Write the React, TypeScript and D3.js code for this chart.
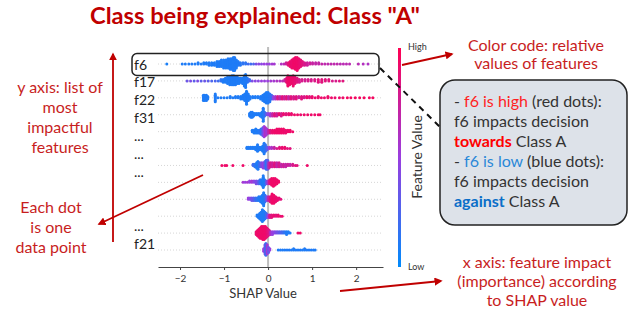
import { useEffect, useRef } from "react"
import * as d3 from "d3"

// tick values on the SHAP axis
const xTicks = [-2, -1, 0, 1, 2]

// labels written next to the rows (blank slots are rows with no label)
const labelSlots = ["f6", "f17", "f22", "f31", "...", "...", "...", "", "", "...", "f21"]

// each entry: [SHAP value, feature value (0 = low, 1 = high), dots stacked in that column]
const f6Pts = [
  [-2.3, 0.08, 1], [-1.95, 0.1, 1], [-1.88, 0.1, 1], [-1.8, 0.1, 1], [-1.73, 0.1, 1], [-1.66, 0.1, 1],
  [-1.59, 0.1, 2], [-1.52, 0.1, 1], [-1.46, 0.1, 2], [-1.4, 0.1, 2], [-1.34, 0.1, 3], [-1.28, 0.1, 3],
  [-1.22, 0.1, 3], [-1.16, 0.1, 5], [-1.11, 0.1, 5], [-1.06, 0.1, 6], [-1.01, 0.1, 7], [-0.96, 0.1, 7],
  [-0.91, 0.1, 8], [-0.86, 0.1, 9], [-0.82, 0.1, 9], [-0.79, 0.1, 11], [-0.76, 0.1, 11], [-0.72, 0.1, 7],
  [-0.68, 0.1, 4], [-0.63, 0.12, 3], [-0.57, 0.15, 2], [-0.51, 0.15, 2], [-0.45, 0.2, 1], [-0.39, 0.2, 1],
  [-0.33, 0.25, 1], [-0.27, 0.4, 1], [-0.21, 0.45, 1], [-0.15, 0.45, 1], [-0.09, 0.5, 1], [-0.03, 0.5, 1],
  [0.03, 0.5, 1], [0.09, 0.55, 1], [0.14, 0.55, 1],
  [0.3, 0.6, 1], [0.36, 0.65, 1], [0.41, 0.75, 2], [0.46, 0.85, 3], [0.5, 0.9, 5], [0.54, 0.9, 7],
  [0.58, 0.92, 8], [0.62, 0.92, 10], [0.66, 0.92, 11], [0.7, 0.9, 8], [0.74, 0.88, 6], [0.78, 0.85, 4],
  [0.83, 0.8, 3], [0.89, 0.75, 3], [0.95, 0.75, 2], [1.01, 0.72, 2], [1.08, 0.7, 2], [1.15, 0.7, 2],
  [1.22, 0.7, 1], [1.29, 0.68, 1], [1.36, 0.68, 1], [1.43, 0.68, 1], [1.5, 0.68, 1], [1.57, 0.68, 1],
  [1.64, 0.66, 1], [1.71, 0.66, 1], [1.78, 0.66, 1], [1.85, 0.66, 1],
  [2.05, 0.65, 1], [2.16, 0.62, 1], [2.27, 0.6, 1],
]
const f17Pts = [
  [-1.84, 0.35, 1], [-1.76, 0.4, 1], [-1.68, 0.3, 1], [-1.6, 0.4, 1], [-1.52, 0.3, 1], [-1.44, 0.35, 1],
  [-1.36, 0.3, 1], [-1.28, 0.25, 1], [-1.2, 0.25, 1], [-1.13, 0.2, 1], [-1.07, 0.15, 2], [-1.02, 0.1, 3],
  [-0.97, 0.1, 4], [-0.92, 0.1, 6], [-0.87, 0.1, 7], [-0.82, 0.1, 8], [-0.78, 0.1, 8], [-0.74, 0.1, 7],
  [-0.7, 0.1, 6], [-0.66, 0.1, 5], [-0.62, 0.1, 4], [-0.58, 0.1, 5], [-0.54, 0.1, 9], [-0.51, 0.1, 11],
  [-0.47, 0.12, 4], [-0.42, 0.2, 2], [-0.36, 0.4, 1], [-0.29, 0.45, 1], [-0.22, 0.45, 1], [-0.15, 0.5, 1],
  [-0.08, 0.5, 1], [-0.01, 0.5, 1], [0.06, 0.55, 1], [0.13, 0.55, 1], [0.2, 0.6, 1], [0.27, 0.6, 1],
  [0.33, 0.65, 1], [0.38, 0.75, 2], [0.42, 0.85, 4], [0.45, 0.92, 9], [0.49, 0.92, 7], [0.53, 0.9, 6],
  [0.57, 0.9, 9], [0.61, 0.88, 6], [0.66, 0.85, 4], [0.71, 0.8, 3], [0.77, 0.8, 2], [0.84, 0.78, 2],
  [0.91, 0.8, 2], [0.98, 0.8, 2], [1.06, 0.82, 2], [1.14, 0.85, 3], [1.22, 0.85, 3], [1.3, 0.85, 2],
  [1.38, 0.85, 2], [1.46, 0.8, 1], [1.54, 0.8, 1], [1.62, 0.85, 1], [1.7, 0.85, 1],
]
const f22Pts = [
  [-1.47, 0.1, 5], [-1.44, 0.1, 5], [-1.4, 0.1, 5], [-1.37, 0.1, 3], [-1.2, 0.1, 7], [-1.14, 0.1, 1],
  [-1.07, 0.1, 1], [-1.0, 0.1, 1], [-0.93, 0.1, 1], [-0.86, 0.1, 2], [-0.8, 0.1, 1], [-0.74, 0.1, 2],
  [-0.68, 0.1, 2], [-0.62, 0.1, 3], [-0.57, 0.1, 4], [-0.53, 0.1, 6], [-0.49, 0.1, 11], [-0.45, 0.1, 6],
  [-0.41, 0.1, 3], [-0.35, 0.1, 2], [-0.29, 0.1, 2], [-0.23, 0.1, 2], [-0.17, 0.1, 3], [-0.12, 0.1, 5],
  [-0.08, 0.1, 7], [-0.04, 0.1, 9], [0.0, 0.1, 9], [0.04, 0.12, 7], [0.08, 0.2, 4], [0.12, 0.45, 3],
  [0.17, 0.6, 3], [0.22, 0.8, 3], [0.27, 0.7, 3], [0.32, 0.85, 3], [0.37, 0.75, 3], [0.42, 0.85, 3],
  [0.47, 0.7, 3], [0.52, 0.85, 3], [0.58, 0.8, 3], [0.64, 0.85, 3], [0.7, 0.75, 2], [0.76, 0.85, 3],
  [0.82, 0.8, 2], [0.88, 0.9, 2], [0.94, 0.85, 2], [1.0, 0.9, 2], [1.07, 0.9, 1], [1.14, 0.9, 2],
  [1.21, 0.92, 1], [1.28, 0.9, 1], [1.36, 0.92, 2], [1.44, 0.92, 1], [1.52, 0.9, 1], [1.62, 0.92, 1],
  [1.7, 0.92, 1], [1.8, 0.95, 1], [1.88, 0.95, 1], [1.98, 0.95, 1], [2.08, 0.95, 1], [2.18, 0.95, 1],
  [2.3, 0.95, 1], [2.38, 0.95, 1],
]
const f31Pts = [
  [-0.42, 0.1, 3], [-0.39, 0.1, 5], [-0.36, 0.1, 5], [-0.33, 0.1, 3], [-0.3, 0.1, 2], [-0.26, 0.1, 2],
  [-0.22, 0.1, 2], [-0.18, 0.1, 3], [-0.14, 0.1, 5], [-0.11, 0.1, 11], [-0.08, 0.15, 4], [-0.04, 0.3, 2],
  [0.0, 0.45, 2], [0.05, 0.55, 3], [0.1, 0.7, 3], [0.15, 0.85, 3], [0.2, 0.75, 3], [0.25, 0.9, 2],
  [0.3, 0.8, 3], [0.35, 0.9, 2], [0.41, 0.85, 2], [0.47, 0.9, 2], [0.53, 0.9, 2], [0.6, 0.92, 1],
  [0.67, 0.92, 1], [0.74, 0.9, 1], [0.82, 0.92, 1], [0.9, 0.92, 1], [0.98, 0.92, 1], [1.06, 0.92, 1],
  [1.14, 0.92, 1], [1.18, 0.92, 1],
]
const row5Pts = [
  [-0.36, 0.1, 2], [-0.32, 0.1, 3], [-0.28, 0.1, 4], [-0.24, 0.1, 3], [-0.2, 0.12, 3], [-0.16, 0.15, 5],
  [-0.12, 0.3, 7], [-0.09, 0.5, 9], [-0.06, 0.6, 7], [-0.03, 0.55, 5], [0.01, 0.7, 3], [0.05, 0.85, 3],
  [0.1, 0.9, 3], [0.15, 0.92, 3], [0.2, 0.92, 4], [0.25, 0.92, 4], [0.3, 0.92, 4], [0.35, 0.92, 4],
  [0.4, 0.9, 3], [0.45, 0.92, 2], [0.5, 0.92, 2], [0.56, 0.92, 1],
]
const row6Pts = [
  [-0.48, 0.1, 2], [-0.44, 0.1, 2], [-0.4, 0.1, 2], [-0.36, 0.1, 2], [-0.32, 0.1, 2], [-0.28, 0.1, 3],
  [-0.24, 0.1, 6], [-0.2, 0.1, 3], [-0.16, 0.1, 3], [-0.12, 0.1, 5], [-0.09, 0.1, 9], [-0.06, 0.15, 6],
  [-0.02, 0.3, 3], [0.03, 0.55, 2], [0.08, 0.6, 2], [0.14, 0.7, 2], [0.2, 0.8, 1], [0.26, 0.85, 2],
  [0.32, 0.9, 2], [0.38, 0.9, 2], [0.44, 0.85, 1], [0.5, 0.85, 1],
]
const row7Pts = [
  [-1.05, 0.92, 1], [-0.98, 0.92, 1], [-0.94, 0.92, 1], [-0.8, 0.92, 1], [-0.57, 0.92, 1],
  [-0.34, 0.2, 2], [-0.3, 0.15, 3], [-0.26, 0.1, 5], [-0.23, 0.1, 7], [-0.19, 0.2, 4], [-0.15, 0.4, 4],
  [-0.11, 0.5, 5], [-0.07, 0.3, 6], [-0.04, 0.15, 8], [-0.01, 0.3, 8], [0.02, 0.7, 5], [0.06, 0.8, 4],
  [0.1, 0.75, 4], [0.15, 0.85, 4], [0.2, 0.7, 4], [0.25, 0.8, 4], [0.3, 0.7, 3], [0.35, 0.75, 3],
  [0.4, 0.7, 3], [0.45, 0.75, 2], [0.5, 0.7, 2], [0.56, 0.8, 2], [0.62, 0.85, 1], [0.66, 0.85, 1],
  [0.89, 0.92, 1],
]
const row8Pts = [
  [-0.57, 0.55, 1], [-0.52, 0.5, 1], [-0.47, 0.55, 1], [-0.42, 0.5, 2], [-0.37, 0.55, 2], [-0.32, 0.45, 2],
  [-0.27, 0.4, 3], [-0.22, 0.3, 3], [-0.18, 0.15, 4], [-0.14, 0.1, 5], [-0.11, 0.1, 10], [-0.08, 0.1, 5],
  [-0.04, 0.3, 3], [0.0, 0.6, 3], [0.04, 0.85, 4], [0.08, 0.92, 6], [0.12, 0.92, 7], [0.16, 0.92, 6],
  [0.2, 0.92, 4], [0.24, 0.92, 2],
]
const row9Pts = [
  [-0.45, 0.5, 2], [-0.41, 0.45, 2], [-0.37, 0.35, 3], [-0.33, 0.3, 3], [-0.29, 0.2, 3], [-0.25, 0.15, 3],
  [-0.21, 0.1, 4], [-0.17, 0.1, 5], [-0.13, 0.1, 7], [-0.1, 0.1, 11], [-0.07, 0.15, 6], [-0.03, 0.4, 4],
  [0.01, 0.7, 4], [0.05, 0.85, 5], [0.09, 0.92, 8], [0.13, 0.92, 7], [0.17, 0.9, 5], [0.21, 0.9, 3],
  [0.25, 0.88, 2], [0.29, 0.85, 1],
]
const row10Pts = [
  [-0.25, 0.1, 2], [-0.22, 0.1, 3], [-0.19, 0.1, 5], [-0.16, 0.1, 7], [-0.13, 0.1, 10], [-0.1, 0.1, 8],
  [-0.07, 0.1, 6], [-0.04, 0.2, 4], [0.0, 0.5, 3], [0.04, 0.8, 3], [0.08, 0.85, 3], [0.13, 0.9, 2],
  [0.18, 0.85, 2], [0.23, 0.9, 2], [0.28, 0.9, 1], [0.32, 0.9, 1],
]
const row11Pts = [
  [-0.27, 0.9, 3], [-0.24, 0.92, 5], [-0.21, 0.92, 7], [-0.18, 0.92, 9], [-0.15, 0.92, 10], [-0.12, 0.92, 11],
  [-0.09, 0.92, 11], [-0.06, 0.92, 10], [-0.03, 0.9, 8], [0.0, 0.85, 6], [0.03, 0.8, 4], [0.06, 0.6, 3],
  [0.1, 0.5, 3], [0.14, 0.45, 2], [0.18, 0.4, 2], [0.22, 0.35, 2], [0.26, 0.3, 2], [0.3, 0.25, 2],
  [0.34, 0.2, 2], [0.38, 0.15, 2], [0.42, 0.1, 3], [0.46, 0.1, 2], [0.5, 0.1, 1], [0.68, 0.92, 1],
  [0.73, 0.92, 1],
]
const f21Pts = [
  [-0.1, 0.5, 3], [-0.07, 0.4, 8], [-0.05, 0.2, 10], [-0.02, 0.55, 8], [0.01, 0.35, 5], [0.04, 0.5, 2],
  [0.23, 0.1, 1], [0.28, 0.1, 1], [0.33, 0.1, 1], [0.38, 0.1, 1], [0.43, 0.1, 1], [0.48, 0.1, 1],
  [0.53, 0.1, 1], [0.58, 0.1, 2], [0.63, 0.1, 1], [0.68, 0.1, 1], [0.73, 0.1, 1], [0.78, 0.1, 1],
  [0.83, 0.1, 2], [0.88, 0.1, 1], [0.93, 0.1, 1], [0.98, 0.1, 1], [1.03, 0.1, 1], [1.07, 0.1, 1],
]

const rows = [f6Pts, f17Pts, f22Pts, f31Pts, row5Pts, row6Pts, row7Pts, row8Pts, row9Pts, row10Pts, row11Pts, f21Pts]

const RED = "#c00000"
const FONT = "Lato, 'Open Sans', sans-serif"

const x = d3.scaleLinear().domain([-2.5, 2.61]).range([158, 383])
const yRow = d3.scalePoint<number>().domain(d3.range(rows.length)).range([64, 250])
const yLabel = d3.scalePoint<number>().domain(d3.range(labelSlots.length)).range([69.5, 248.5])
const color = d3.scaleLinear<string>()
  .domain([0, 0.5, 1])
  .range(["#008bfb", "#9a3ee0", "#ff0052"])
  .interpolate(d3.interpolateRgb)

const axisY = 267
const step = 1.3

// stack the dots of each column up and down around the row line
const dots = rows.flatMap((pts, i) =>
  pts.flatMap(([s, v, n]) =>
    d3.range(n).map(k => ({
      cx: x(s),
      cy: yRow(i)! + (k % 2 === 0 ? 1 : -1) * Math.ceil(k / 2) * step,
      fill: color(v),
    }))
  )
)

const App = () => {
  const axisRef = useRef<SVGGElement>(null)

  useEffect(() => {
    const g = d3.select(axisRef.current)
    g.selectAll("*").remove()
    g.call(d3.axisBottom(x).tickValues(xTicks).tickSize(3).tickSizeOuter(0).tickFormat(d3.format("d")))
    g.select(".domain").attr("stroke", "#444")
    g.selectAll(".tick line").attr("stroke", "#444")
    g.selectAll(".tick text").attr("fill", "#333").style("font-size", "10px").style("font-family", FONT).attr("dy", "0.9em")
  }, [])

  const gradStops = d3.range(0, 1.01, 0.1)

  return (
    <svg width={636} height={314} style={{ position: "absolute", left: 0, top: 0, background: "#fff" }} fontFamily={FONT}>
      <defs>
        <marker id="arrRed" viewBox="0 0 10 10" refX="8" refY="5" markerWidth="4.5" markerHeight="4.5" orient="auto">
          <path d="M0,0L10,5L0,10z" fill={RED} />
        </marker>
        <linearGradient id="cbar" x1="0" y1="1" x2="0" y2="0">
          {gradStops.map(t => <stop key={t} offset={t} stopColor={color(t)} />)}
        </linearGradient>
      </defs>

      <text x={255} y={24} textAnchor="middle" fontSize={23} fontWeight="bold" fill={RED}
        textLength={330} lengthAdjust="spacingAndGlyphs">Class being explained: Class "A"</text>

      {/* row grid lines */}
      {rows.map((_, i) => (
        <line key={i} x1={158} x2={383} y1={yRow(i)} y2={yRow(i)} stroke="#ccc" strokeWidth={0.8} strokeDasharray="1,2" />
      ))}
      <line x1={x(0)} x2={x(0)} y1={47} y2={axisY} stroke="#bdbdbd" strokeWidth={2} />

      {dots.map((d, i) => <circle key={i} cx={d.cx} cy={d.cy} r={1.5} fill={d.fill} />)}

      <g ref={axisRef} transform={`translate(0,${axisY})`} />
      <text x={263} y={298} textAnchor="middle" fontSize={13} fill="#333">SHAP Value</text>

      {labelSlots.map((l, i) => (
        <text key={i} x={134} y={yLabel(i)} fontSize={14} fill="#222">{l}</text>
      ))}

      <rect x={132} y={yRow(0)! - 10.5} width={247} height={22} rx={5} fill="none" stroke="#222" strokeWidth={1.5} />

      {/* colour bar */}
      <rect x={398} y={48} width={3} height={axisY - 48} fill="url(#cbar)" />
      <text x={408} y={50} fontSize={9} fill="#333">High</text>
      <text x={408} y={270} fontSize={9} fill="#333">Low</text>
      <text transform="translate(422,157) rotate(-90)" textAnchor="middle" fontSize={14} fill="#333">Feature Value</text>

      {/* annotations */}
      <line x1={380} y1={68} x2={441} y2={128} stroke="#111" strokeWidth={2} strokeDasharray="6,5" />
      <rect x={440} y={80} width={187} height={145} rx={15} fill="#dde2e9" stroke="#222" strokeWidth={1.5} />
      <g fontSize={16} fill="#333">
        <text x={454} y={107}>- <tspan fill="#ff1f1f">f6 is high</tspan> (red dots):</text>
        <text x={454} y={127}>f6 impacts decision</text>
        <text x={454} y={147}><tspan fill="#ff0000" fontWeight="bold">towards</tspan> Class A</text>
        <text x={454} y={167}>- <tspan fill="#2a88d8">f6 is low</tspan> (blue dots):</text>
        <text x={454} y={187}>f6 impacts decision</text>
        <text x={454} y={207}><tspan fill="#0a6ec8" fontWeight="bold">against</tspan> Class A</text>
      </g>

      <g fontSize={16} fill="#c81e1e" textAnchor="middle">
        <text x={536} y={51}>Color code: relative</text>
        <text x={536} y={69}>values of features</text>
        <text x={537} y={268}>x axis: feature impact</text>
        <text x={537} y={287}>(importance) according</text>
        <text x={537} y={306}>to SHAP value</text>
        <text x={60} y={93}>y axis: list of</text>
        <text x={60} y={113}>most</text>
        <text x={60} y={133}>impactful</text>
        <text x={60} y={153}>features</text>
        <text x={51} y={213}>Each dot</text>
        <text x={51} y={233}>is one</text>
        <text x={51} y={253}>data point</text>
      </g>

      <g stroke={RED} strokeWidth={1.8} markerEnd="url(#arrRed)">
        <line x1={113} y1={242} x2={113} y2={54} />
        <line x1={203} y1={175} x2={99} y2={224} />
        <line x1={340} y1={291} x2={441} y2={281} />
        <line x1={402} y1={65} x2={452} y2={54} />
      </g>
    </svg>
  )
}

export default App
